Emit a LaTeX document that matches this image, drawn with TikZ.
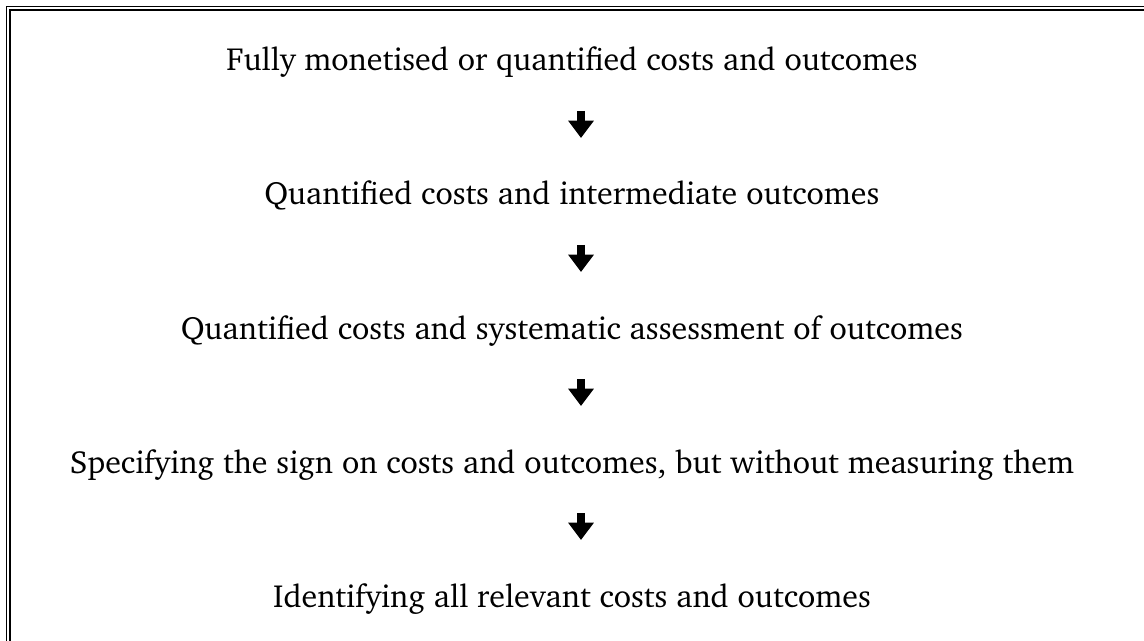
\documentclass[tikz,border=0pt]{standalone}
\usepackage[T1]{fontenc}
\usepackage{charter}
\usepackage{tikz}
\usetikzlibrary{arrows.meta}

\tikzset{
  stage/.style={anchor=base,inner sep=0pt,font=\fontsize{24}{29}\selectfont},
  downarrow/.style={line width=5.5pt,-{Triangle[width=18.5pt,length=13pt]}},
  frameline/.style={line cap=rect}
}

\begin{document}
\begin{tikzpicture}
[x=0.75pt,y=-0.75pt]
\useasboundingbox (0,0) rectangle (1144,641);
% double frame, top and left only show
\draw[frameline,line width=1.1pt] (6.5,641) -- (6.5,6.5) -- (1144,6.5);
\draw[frameline,line width=1.6pt] (10,641) -- (10,10) -- (1144,10);
% stages
\node[stage] (l1) at (572,71) {Fully monetised or quantified costs and outcomes};
\node[stage] (l2) at (572,205) {Quantified costs and intermediate outcomes};
\node[stage] (l3) at (572,339) {Quantified costs and systematic assessment of outcomes};
\node[stage] (l4) at (572,473) {Specifying the sign on costs and outcomes, but without measuring them};
\node[stage] (l5) at (572,607) {Identifying all relevant costs and outcomes};
% arrows between them
\draw[downarrow] ([shift={(9,40)}]l1.base) -- ([shift={(9,-67)}]l2.base);
\draw[downarrow] ([shift={(9,40)}]l2.base) -- ([shift={(9,-67)}]l3.base);
\draw[downarrow] ([shift={(9,40)}]l3.base) -- ([shift={(9,-67)}]l4.base);
\draw[downarrow] ([shift={(9,40)}]l4.base) -- ([shift={(9,-67)}]l5.base);
\end{tikzpicture}
\end{document}
